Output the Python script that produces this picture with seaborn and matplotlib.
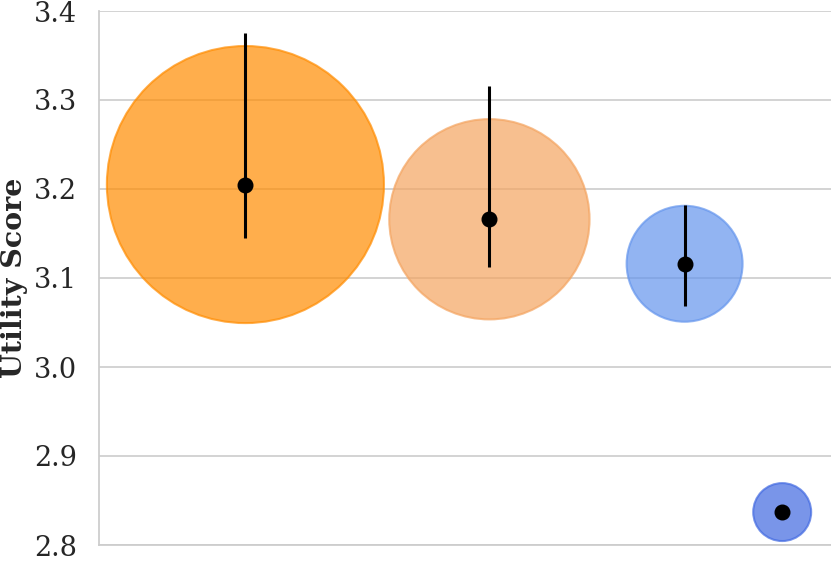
import numpy as np
import pandas as pd
import seaborn as sns
import matplotlib.pyplot as plt

# data
groups = ['A', 'B', 'C', 'D']
x_pos = [0.0, 1.0, 1.8, 2.2]
utility = [3.205, 3.166, 3.116, 2.837]
err_low = [3.145, 3.112, 3.069, 2.835]
err_high = [3.375, 3.316, 3.182, 2.839]
bubble_size = [39800, 20800, 6970, 1740]
colors = ['darkorange', 'sandybrown', 'cornflowerblue', 'royalblue']

df = pd.DataFrame({'group': groups, 'x': x_pos, 'utility': utility,
                   'size': bubble_size})

sns.set_theme(style='whitegrid')
plt.rcParams['font.family'] = ['DejaVu Serif']

fig = plt.figure(figsize=(8.31, 5.62), dpi=100)
ax = fig.add_axes([99 / 831, 17 / 562, 732 / 831, 534 / 562])

sns.scatterplot(data=df, x='x', y='utility', hue='group', palette=colors,
                size='size', sizes=(min(bubble_size), max(bubble_size)),
                alpha=0.7, linewidth=0, legend=False, ax=ax)
# outline each bubble with its own colour
coll = ax.collections[0]
coll.set_edgecolor([(*plt.matplotlib.colors.to_rgb(c), 0.7) for c in colors])
coll.set_linewidth(1.5)

yerr = [np.array(utility) - np.array(err_low), np.array(err_high) - np.array(utility)]
ax.errorbar(x_pos, utility, yerr=yerr, fmt='o', color='black',
            markersize=10.5, elinewidth=2.2, capsize=0, zorder=5)

ax.set_xlim(-0.6, 2.4)
ax.set_ylim(2.8, 3.4)
ax.set_yticks([2.8, 2.9, 3.0, 3.1, 3.2, 3.3, 3.4])
ax.set_xticks([])
ax.set_xlabel('')
ax.set_ylabel('Utility Score', fontsize=20.5, fontweight='bold', labelpad=4)
ax.tick_params(axis='y', labelsize=19.5, pad=10)
ax.grid(axis='x', visible=False)
ax.grid(axis='y', color='.8', linewidth=1.2)
sns.despine(ax=ax, top=True, right=True)
for s in ['left', 'bottom']:
    ax.spines[s].set_color('.8')

fig.savefig('out.png', dpi=100)
